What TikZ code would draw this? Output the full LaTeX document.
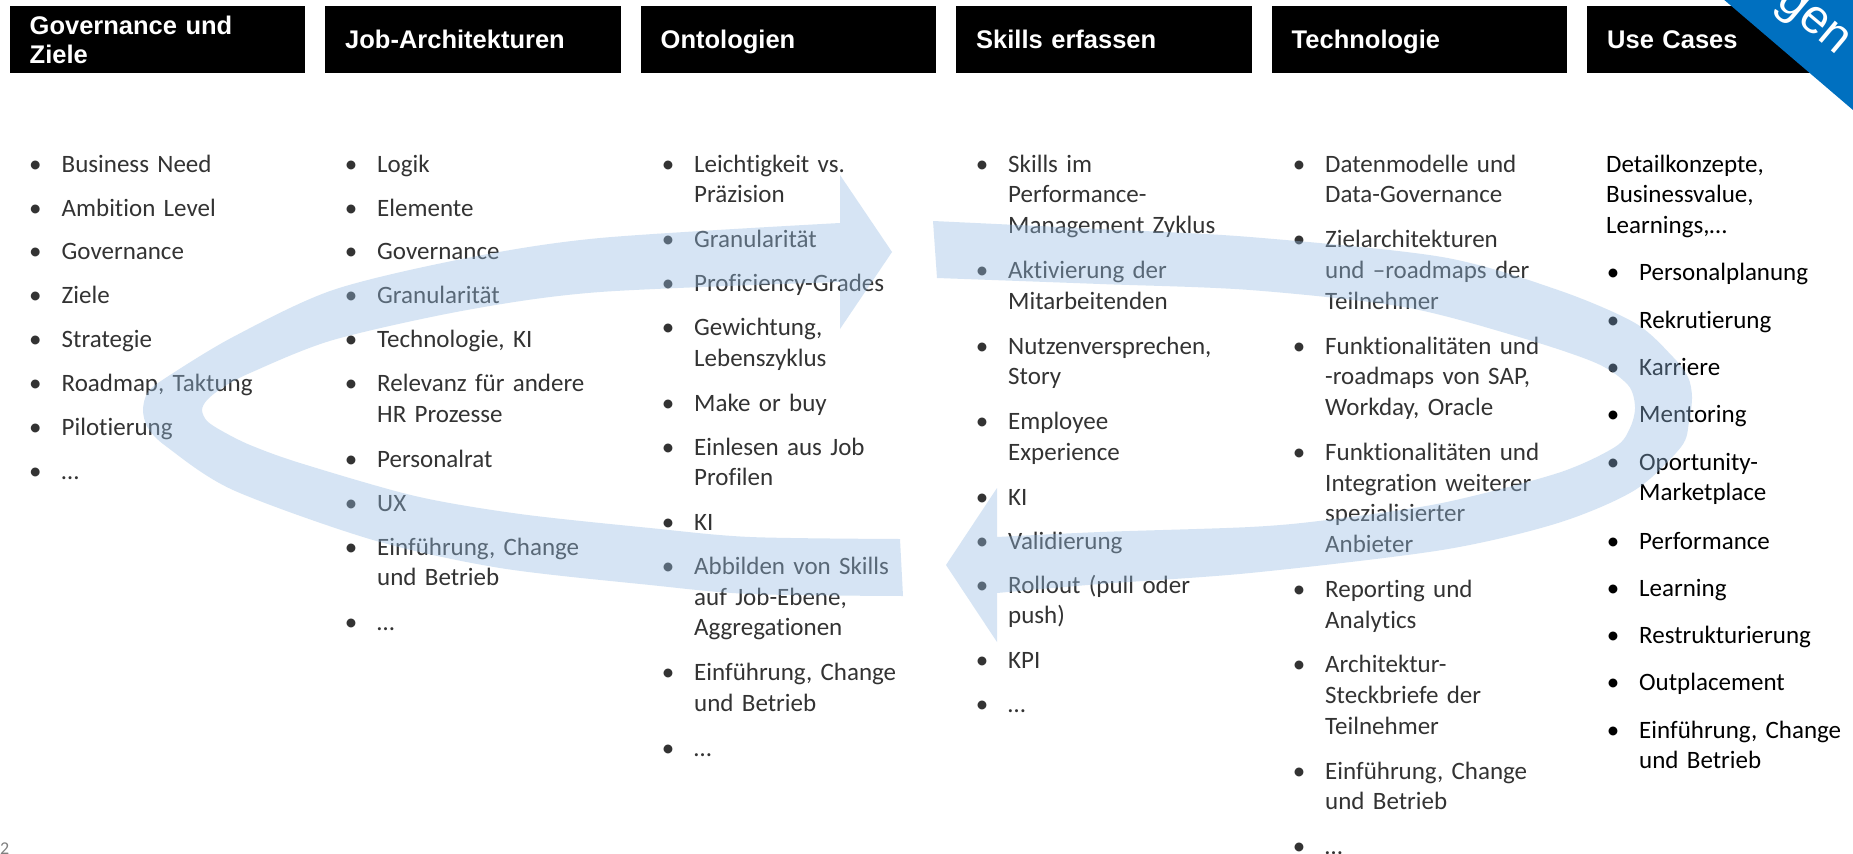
\documentclass[tikz,border=0pt]{standalone}
\usepackage{fontspec}
\setmainfont{Carlito}[Ligatures={NoCommon}]
\newfontfamily\hdfont{Liberation Sans}
\definecolor{txt}{RGB}{51,51,51}
\definecolor{loopblue}{RGB}{150,188,227}
\definecolor{ribbonblue}{RGB}{0,112,192}
\newcommand{\bi}[2][28pt]{\makebox[#1][r]{\strut\textbullet\hspace{20pt}}\parbox[t]{300pt}{\raggedright\strut #2\strut}}
\newcommand{\hta}{\rule{0pt}{24pt}}
\newcommand{\htb}{\rule[-6.4pt]{0pt}{6.4pt}}
\newcommand{\gp}{\\[13.2pt]}
\newcommand{\gq}{\\[16.6pt]}
\tikzset{
  hdr/.style={fill=black, text=white, anchor=north west, minimum width=295.5pt, minimum height=67pt,
    inner xsep=20pt, inner ysep=0pt, text width=255.5pt, align=left,
    font=\hdfont\bfseries\fontsize{25.5}{29}\selectfont},
  col/.style={anchor=north west, inner sep=0pt, text width=330pt, align=left, text=txt,
    font=\fontsize{25}{30.7}\selectfont},
  loopshape/.style={fill=loopblue, fill opacity=0.39},
}
\begin{document}
\begin{tikzpicture}[x=1pt,y=-1pt]
\useasboundingbox (0,0) rectangle (1853,854);
\clip (0,0) rectangle (1853,854);
\fill[white] (0,0) rectangle (1853,854);

% headers
\node[hdr] (h1) at (9.5,6) {\hta Governance und\\Ziele\htb};
\node[hdr] (h2) at (325,6) {\hta Job-Architekturen\htb};
\node[hdr] (h3) at (640.5,6) {\hta Ontologien\htb};
\node[hdr] (h4) at (956,6) {\hta Skills erfassen\htb};
\node[hdr] (h5) at (1271.5,6) {\hta Technologie\htb};
\node[hdr] (h6) at (1587,6) {\hta Use Cases\htb};

% columns
\node[col] (c1) at (33.5,150.5) {%
\bi{Business Need}\gp\bi{Ambition Level}\gp\bi{Governance}\gp\bi{Ziele}\gp%
\bi{Strategie}\gp\bi{Roadmap, Taktung}\gp\bi{Pilotierung}\gp\bi{…}};

\node[col] (c2) at (349,150.5) {%
\bi{Logik}\gp\bi{Elemente}\gp\bi{Governance}\gp\bi{Granularität}\gp%
\bi{Technologie, KI}\gp\bi{Relevanz für andere\\HR Prozesse}\gp\bi{Personalrat}\gp%
\bi{UX}\gp\bi{Einführung, Change\\und Betrieb}\gp\bi{…}};

\node[col] (c3) at (666,150.5) {%
\bi{Leichtigkeit vs.\\Präzision}\gp\bi{Granularität}\gp\bi{Proficiency-Grades}\gp%
\bi{Gewichtung,\\Lebenszyklus}\gp\bi{Make or buy}\gp\bi{Einlesen aus Job\\Profilen}\gp%
\bi{KI}\gp\bi{Abbilden von Skills\\auf Job-Ebene,\\Aggregationen}\gp%
\bi{Einführung, Change\\und Betrieb}\gp\bi{…}};

\node[col] (c4) at (980,150.5) {%
\bi{Skills im\\Performance-\\Management Zyklus}\gp\bi{Aktivierung der\\Mitarbeitenden}\gp%
\bi{Nutzenversprechen,\\Story}\gp\bi{Employee\\Experience}\gp\bi{KI}\gp%
\bi{Validierung}\gp\bi{Rollout (pull oder\\push)}\gp\bi{KPI}\gp\bi{…}};

\node[col] (c5) at (1297,150.5) {%
\bi{Datenmodelle und\\Data-Governance}\gp\bi{Zielarchitekturen\\und –roadmaps der\\Teilnehmer}\gp%
\bi{Funktionalitäten und\\-roadmaps von SAP,\\Workday, Oracle}\gp%
\bi{Funktionalitäten und\\Integration weiterer\\spezialisierter\\Anbieter}\gp%
\bi{Reporting und\\Analytics}\gp\bi{Architektur-\\Steckbriefe der\\Teilnehmer}\gp%
\bi{Einführung, Change\\und Betrieb}\gp\bi{…}};

\node[col, text=black] (c6) at (1606,150.5) {%
\strut Detailkonzepte,\\Businessvalue,\\Learnings,…\strut\gq%
\bi[33pt]{Personalplanung}\gq\bi[33pt]{Rekrutierung}\gq\bi[33pt]{Karriere}\gq%
\bi[33pt]{Mentoring}\gq\bi[33pt]{Oportunity-\\Marketplace}\gq\bi[33pt]{Performance}\gq%
\bi[33pt]{Learning}\gq\bi[33pt]{Restrukturierung}\gq\bi[33pt]{Outplacement}\gq%
\bi[33pt]{Einführung, Change\\und Betrieb}};

% page number fragment
\node[anchor=north west, inner sep=0pt, text=gray, font=\fontsize{18}{20}\selectfont] (pg) at (0,843) {2};

% left loop with arrow to the right
\fill[loopshape] (892,252) -- (840,329) -- (840,282)
  -- plot[smooth] coordinates {(840,282) (600,292) (467,310) (333,340) (250,373) (222,388) (207,400) (202,410) (207,421) (222,431) (250,445) (300,463) (415,496) (520,514) (650,528) (750,537) (900,539)}
  -- (903,596)
  -- plot[smooth] coordinates {(903,596) (750,594) (650,585) (500,568) (373,540) (233,490) (167,447) (148,428) (143,410) (148,392) (167,377) (233,337) (333,290) (467,258) (600,238) (840,223)}
  -- (840,175) -- cycle;

% right loop with arrow to the left
\fill[loopshape] (933,221)
  -- plot[smooth] coordinates {(933,221) (1100,229) (1250,237) (1442,257) (1558,290) (1635,323) (1673,357) (1688,377) (1692,397) (1689,422) (1681,447) (1635,490) (1558,523) (1442,550) (1250,573) (1100,584) (997,593)}
  -- (997,642) -- (946,565) -- (997,488) -- (997,537)
  -- plot[smooth] coordinates {(997,537) (1100,532) (1250,527) (1327,520) (1442,503) (1558,473) (1615,447) (1630,428) (1635,407) (1628,385) (1596,363) (1519,337) (1404,307) (1250,290) (1100,284) (937,278)}
  -- cycle;

% corner ribbon
\fill[ribbonblue] (1722,-2) -- (1860,-2) -- (1860,116) -- cycle;
\node[rotate=-40, text=white, anchor=mid, inner sep=0pt, font=\hdfont\fontsize{48}{48}\selectfont] (rib) at (1808,28) {gen};
\end{tikzpicture}
\end{document}
